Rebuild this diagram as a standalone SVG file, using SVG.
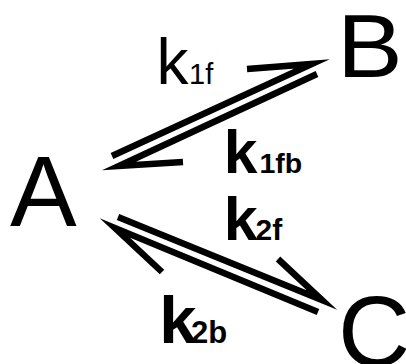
<svg xmlns="http://www.w3.org/2000/svg" width="406" height="364" viewBox="0 0 406 364">
<style>
.node{font-family:"Liberation Sans",Arial,sans-serif;font-size:100px;fill:#000}
.harpoon{fill:none;stroke:#000;stroke-width:6.5;stroke-linecap:butt;stroke-linejoin:miter;stroke-miterlimit:12}
.k{font-family:"Liberation Sans",Arial,sans-serif;fill:#000}
.b{font-weight:bold}
</style>
<rect width="406" height="364" fill="#fff"/>
<g id="node-A"><text class="node" x="10" y="226">A</text></g>
<g id="node-B"><text class="node" transform="translate(337 77.3) scale(1.1 1)" style="font-size:89.5px">B</text></g>
<g id="node-C"><text class="node" x="338" y="366">C</text></g>
<g id="connectors">
<path id="A-B-forward" class="harpoon" d="M112,156 L312,64 L247,69"/>
<path id="B-A-back" class="harpoon" d="M317,74 L119,166 L183,162"/>
<path id="A-C-forward" class="harpoon" d="M118,217 L322,300 L278,259"/>
<path id="C-A-back" class="harpoon" d="M318,312 L115,228 L162,272"/>
</g>
<g id="labels">
<g id="k1f"><text class="k" x="156.4" y="84.3" font-size="64">k</text><text class="k" x="189" y="84.3" font-size="29">1f</text></g>
<g id="k1fb"><text class="k b" x="223.7" y="172.7" font-size="60.6">k</text><text class="k b" x="259.5" y="172.7" font-size="28.5">1fb</text></g>
<g id="k2f"><text class="k b" x="223.7" y="240" font-size="61">k</text><text class="k b" x="255.5" y="240" font-size="30">2f</text></g>
<g id="k2b"><text class="k b" x="159.3" y="343.3" font-size="67">k</text><text class="k b" x="191" y="343.3" font-size="31">2b</text></g>
</g>
</svg>
